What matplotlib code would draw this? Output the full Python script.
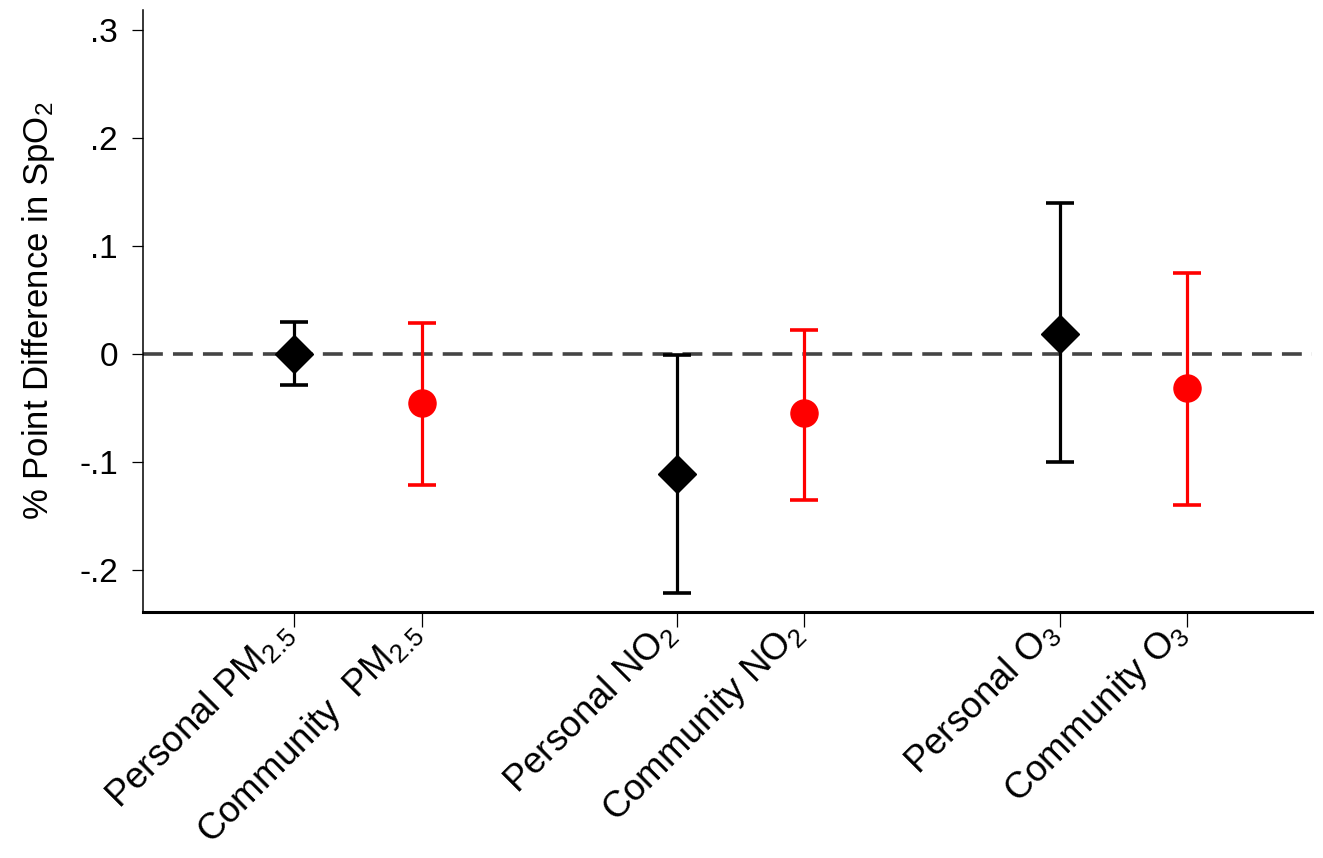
import numpy as np
import matplotlib
matplotlib.use("Agg")
import matplotlib.pyplot as plt

plt.rcParams['font.family'] = ['Liberation Sans', 'DejaVu Sans']
plt.rcParams['mathtext.fontset'] = 'custom'
plt.rcParams['mathtext.rm'] = 'Liberation Sans'
plt.rcParams['mathtext.it'] = 'Liberation Sans'

# datos
etiquetas = ['Personal PM$_{2.5}$', 'Community  PM$_{2.5}$',
             'Personal NO$_2$', 'Community NO$_2$',
             'Personal O$_3$', 'Community O$_3$']
estimacion = [0.000, -0.045, -0.111, -0.055, 0.019, -0.031]
ic_superior = [0.030, 0.029, -0.001, 0.022, 0.140, 0.075]
ic_inferior = [-0.029, -0.121, -0.221, -0.135, -0.100, -0.140]
tipo = ['personal', 'community', 'personal', 'community', 'personal', 'community']

pos = np.array([0, 1, 3, 4, 6, 7])
est = np.array(estimacion)
sup = np.array(ic_superior)
inf = np.array(ic_inferior)

fig = plt.figure(figsize=(13.23, 8.58), dpi=100)
ax = fig.add_axes([0.108, 0.2867, 0.884, 0.7013])

ax.axhline(0, color='#444444', lw=2.6, dashes=(5.5, 2.8), zorder=1)

for i in range(len(pos)):
    if tipo[i] == 'personal':
        col, mk, ms = 'black', 'D', 19
    else:
        col, mk, ms = 'red', 'o', 19.5
    ax.errorbar(pos[i], est[i],
                yerr=[[est[i] - inf[i]], [sup[i] - est[i]]],
                fmt=mk, color=col, ms=ms, elinewidth=2.3,
                capsize=10, capthick=2.6, zorder=3)

ax.set_xlim(-1.184, 7.98)
ax.set_ylim(-0.2389, 0.3185)
ax.set_yticks([-0.2, -0.1, 0, 0.1, 0.2, 0.3])
ax.set_yticklabels(['-.2', '-.1', '0', '.1', '.2', '.3'], fontsize=24)
ax.set_xticks(pos)
ax.set_xticklabels(etiquetas, rotation=45, ha='right', va='baseline',
                   rotation_mode='anchor', fontsize=26.5)
ax.tick_params(axis='x', length=11, width=0.9, pad=5)
ax.tick_params(axis='y', length=8, width=0.9, pad=10)
ax.set_ylabel('% Point Difference in SpO$_2$', fontsize=25, labelpad=16)

ax.spines['top'].set_visible(False)
ax.spines['right'].set_visible(False)
ax.spines['left'].set_linewidth(1.1)
ax.spines['bottom'].set_linewidth(2.2)

fig.savefig('out.png', dpi=100)
